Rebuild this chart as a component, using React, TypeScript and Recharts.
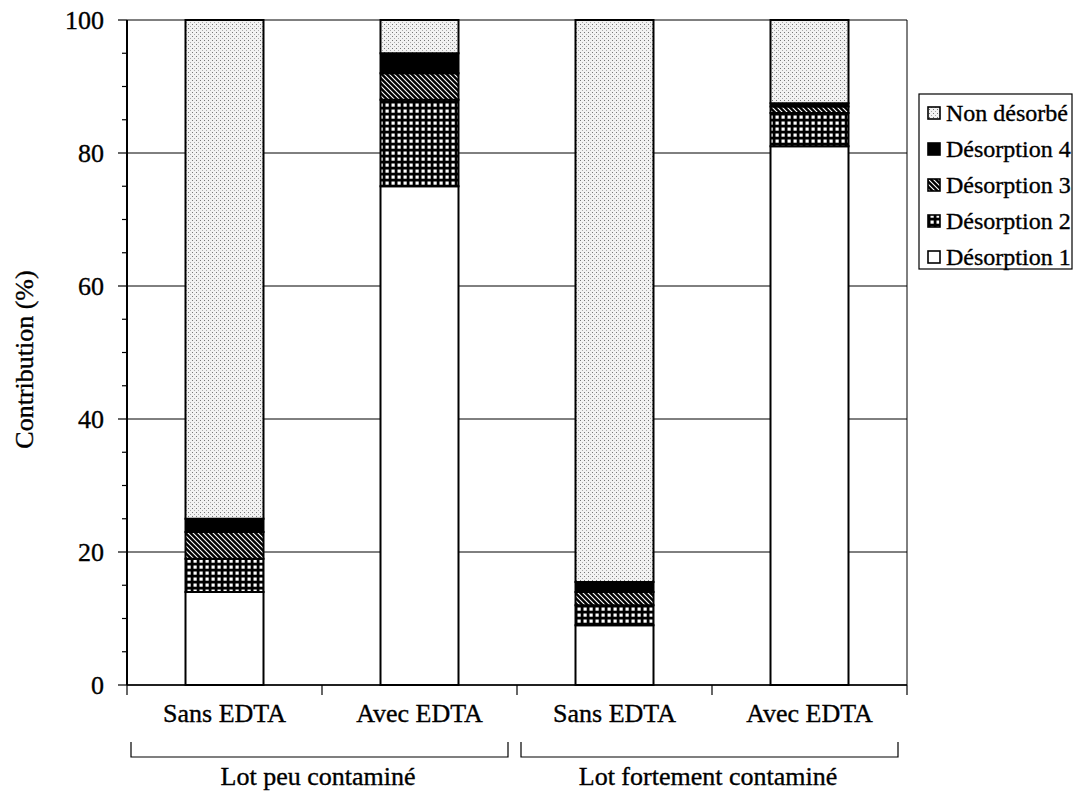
import { BarChart, Bar, XAxis, YAxis, CartesianGrid } from 'recharts'

const FONT = '"Liberation Serif", "Times New Roman", serif'

const CATEGORIES = ['Sans EDTA', 'Avec EDTA', 'Sans EDTA', 'Avec EDTA']
const GROUPS     = ['Lot peu contaminé', 'Lot peu contaminé', 'Lot fortement contaminé', 'Lot fortement contaminé']

const DESORPTION_1 = [14, 75, 9, 81]
const DESORPTION_2 = [5, 13, 3, 5]
const DESORPTION_3 = [4, 4, 2, 1]
const DESORPTION_4 = [2, 3, 1.5, 0.5]
const NON_DESORBE  = [75, 5, 84.5, 12.5]

const Y_MAJOR = [0, 20, 40, 60, 80, 100]
const Y_ALL   = [0, 5, 10, 15, 20, 25, 30, 35, 40, 45, 50, 55, 60, 65, 70, 75, 80, 85, 90, 95, 100]

const SERIES = [
  { key: 'd1',  name: 'Désorption 1', fill: '#ffffff' },
  { key: 'd2',  name: 'Désorption 2', fill: 'url(#grid)' },
  { key: 'd3',  name: 'Désorption 3', fill: 'url(#hatch)' },
  { key: 'd4',  name: 'Désorption 4', fill: '#000000' },
  { key: 'non', name: 'Non désorbé',  fill: 'url(#stipple)' },
]

const data = CATEGORIES.map((name, i) => ({
  name,
  group: GROUPS[i],
  d1: DESORPTION_1[i],
  d2: DESORPTION_2[i],
  d3: DESORPTION_3[i],
  d4: DESORPTION_4[i],
  non: NON_DESORBE[i],
}))

// layout
const W = 1079
const H = 800
const PLOT_LEFT = 127
const PLOT_RIGHT = 907
const BAND = (PLOT_RIGHT - PLOT_LEFT) / CATEGORIES.length

const TEXT = { fontFamily: FONT, fill: '#000', stroke: '#000', strokeWidth: 0.35 }

function Patterns() {
  return (
    <svg width={0} height={0} style={{ position: 'absolute' }}>
      <defs>
        <pattern id="stipple" width={4} height={4} patternUnits="userSpaceOnUse">
          <rect width={4} height={4} fill="#f2f2f2" />
          <rect x={0} y={0} width={1} height={1} fill="#777" />
          <rect x={2} y={2} width={1} height={1} fill="#aaa" />
        </pattern>
        <pattern id="grid" width={6} height={6} patternUnits="userSpaceOnUse">
          <rect width={6} height={6} fill="#000" />
          <rect x={1.5} y={1.5} width={3.2} height={3.2} fill="#fff" />
        </pattern>
        <pattern id="hatch" width={5} height={5} patternUnits="userSpaceOnUse">
          <rect width={5} height={5} fill="#000" />
          <path d="M0,0 L5,5 M-1,4 L1,6 M4,-1 L6,1" stroke="#fff" strokeWidth={1.1} />
        </pattern>
      </defs>
    </svg>
  )
}

function YTick({ x, y, payload }: any) {
  const major = payload.value % 20 === 0
  return (
    <g>
      <line x1={x - (major ? 9 : 5)} x2={x} y1={y} y2={y} stroke="#000" strokeWidth={1.2} />
      {major && (
        <text x={x - 23} y={y} dy="0.35em" textAnchor="end" fontSize={26} {...TEXT}>
          {payload.value}
        </text>
      )}
    </g>
  )
}

function CategoryTick({ x, y, payload, index }: any) {
  const half = BAND / 2
  const last = index === CATEGORIES.length - 1
  const gx = x + half
  return (
    <g>
      <line x1={x - half} x2={x - half} y1={y} y2={y + 10} stroke="#000" strokeWidth={1.2} />
      {last && <line x1={x + half} x2={x + half} y1={y} y2={y + 10} stroke="#000" strokeWidth={1.2} />}
      <text x={x} y={y + 37} textAnchor="middle" fontSize={26} {...TEXT}>
        {payload.value}
      </text>
      {index % 2 === 0 && (
        <g>
          <path
            d={`M${gx - BAND + 4},${y + 57} L${gx - BAND + 4},${y + 72} L${gx + BAND - 9},${y + 72} L${gx + BAND - 9},${y + 57}`}
            fill="none"
            stroke="#000"
            strokeWidth={1.2}
          />
          <text x={gx - 4} y={y + 100} textAnchor="middle" fontSize={26} {...TEXT}>
            {GROUPS[index]}
          </text>
        </g>
      )}
    </g>
  )
}

function YLabel({ viewBox }: any) {
  const cx = viewBox.x + 24
  const cy = viewBox.y + viewBox.height / 2 + 7
  return (
    <text
      x={cx}
      y={cy}
      transform={`rotate(-90 ${cx} ${cy})`}
      textAnchor="middle"
      dominantBaseline="central"
      fontSize={26}
      {...TEXT}
    >
      Contribution (%)
    </text>
  )
}

function LegendBox() {
  const items = [...SERIES].reverse()
  return (
    <svg width={160} height={180} style={{ position: 'absolute', left: 917, top: 93 }}>
      <rect x={2} y={1} width={153} height={175} fill="#fff" stroke="#000" strokeWidth={1.2} />
      {items.map((s, i) => {
        const cy = 20 + i * 36
        return (
          <g key={s.key}>
            <rect x={11} y={cy - 6} width={12} height={12} fill={s.fill} stroke="#000" strokeWidth={1.6} />
            <text x={29} y={cy} dominantBaseline="central" fontSize={24} {...TEXT}>
              {s.name}
            </text>
          </g>
        )
      })}
    </svg>
  )
}

const horizontalLines = ({ yAxis, offset }: any) =>
  Y_MAJOR.map((v) =>
    yAxis && typeof yAxis.scale === 'function'
      ? yAxis.scale(v)
      : offset.top + offset.height * (1 - v / 100),
  )

const frameLines = ({ offset }: any) => [offset.left + offset.width]

export default function App() {
  return (
    <div style={{ position: 'absolute', left: 0, top: 0, width: W, height: H, background: '#fff' }}>
      <Patterns />
      <BarChart
        width={W}
        height={H}
        data={data}
        margin={{ top: 20, right: W - PLOT_RIGHT, left: 0, bottom: 0 }}
        barCategoryGap="30%"
      >
        <CartesianGrid
          stroke="#000"
          strokeWidth={1}
          horizontalCoordinatesGenerator={horizontalLines}
          verticalCoordinatesGenerator={frameLines}
        />
        <XAxis
          dataKey="name"
          height={115}
          tickLine={false}
          tickSize={0}
          tickMargin={0}
          axisLine={{ stroke: '#000', strokeWidth: 1.5 }}
          tick={<CategoryTick />}
          interval={0}
        />
        <YAxis
          domain={[0, 100]}
          ticks={Y_ALL}
          interval={0}
          width={PLOT_LEFT}
          tickSize={0}
          tickMargin={0}
          tickLine={false}
          axisLine={{ stroke: '#000', strokeWidth: 2 }}
          tick={<YTick />}
          label={<YLabel />}
        />
        {SERIES.map((s) => (
          <Bar
            key={s.key}
            dataKey={s.key}
            name={s.name}
            stackId="a"
            fill={s.fill}
            stroke="#000"
            strokeWidth={2}
            isAnimationActive={false}
          />
        ))}
      </BarChart>
      <LegendBox />
    </div>
  )
}
